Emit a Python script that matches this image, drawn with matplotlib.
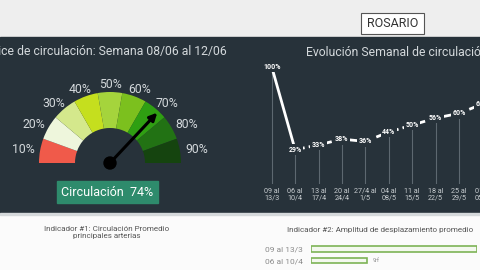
import numpy as np
import matplotlib
matplotlib.use('Agg')
import matplotlib.pyplot as plt
from matplotlib.patches import Wedge, Rectangle, Circle

plt.rcParams['font.family'] = ['Roboto', 'DejaVu Sans']

# gauge: circulation index, week 08/06 - 12/06
gauge_labels = ['10%', '20%', '30%', '40%', '50%', '60%', '70%', '80%', '90%']
gauge_colors = ['#f05a4a', '#eef6dc', '#d4e88c', '#c5df1e', '#a5d43c',
                '#7cc01e', '#2f9f12', '#227214', '#15440f']
gauge_value = 74

# weekly evolution of circulation
weeks = ['09 al\n13/3', '06 al\n10/4', '13 al\n17/4', '20 al\n24/4', '27/4 al\n1/5',
         '04 al\n08/5', '11 al\n15/5', '18 al\n22/5', '25 al\n29/5', '01 al\n05/6',
         '08 al\n12/6']
week_values = [100, 29, 33, 38, 36, 44, 50, 56, 60, 68, 74]

# indicator 2: displacement amplitude
disp_weeks = ['09 al 13/3', '06 al 10/4']
disp_values = [26.7, 9]
disp_texts = ['', '9rf']

DARK = '#27323a'
LIGHT = '#d3d8db'

fig = plt.figure(figsize=(4.8, 2.7), dpi=100)
fig.patch.set_facecolor('#fbfbfb')

# background / layout axes in pixel units
bg = fig.add_axes([0, 0, 1, 1])
bg.set_xlim(0, 480)
bg.set_ylim(270, 0)
bg.axis('off')
bg.add_patch(Rectangle((0, 0), 480, 37, color='#eeeeee'))
bg.add_patch(Rectangle((0, 37), 480, 176, color=DARK))
bg.add_patch(Rectangle((0, 213), 480, 2, color='#d5d9db'))

# ROSARIO box
bg.add_patch(Rectangle((361, 13), 63, 21, fc='white', ec='#555555', lw=0.8))
bg.text(392.5, 23.5, 'ROSARIO', ha='center', va='center', fontsize=9, color='#333333')

# titles
bg.text(227, 52, 'Índice de circulación: Semana 08/06 al 12/06', ha='right', va='center',
        fontsize=8.8, color=LIGHT)
bg.text(306, 52, 'Evolución Semanal de circulación', ha='left', va='center',
        fontsize=8.8, color=LIGHT)

# gauge
cx, cy, r_out, r_in = 110, 163, 71, 35
step = 180 / len(gauge_labels)
for i, (lab, col) in enumerate(zip(gauge_labels, gauge_colors)):
    a1 = 180 - (i + 1) * step
    a2 = 180 - i * step
    bg.add_patch(Wedge((cx, cy), r_out, -a2, -a1, width=r_out - r_in, fc=col, ec='none'))
    am = np.radians((a1 + a2) / 2)
    bg.text(cx + 88 * np.cos(am), cy - 78 * np.sin(am), lab, ha='center', va='center',
            fontsize=8.8, color=LIGHT)

ang = np.radians(180 * (1 - gauge_value / 100))
tip = (cx + 69 * np.cos(ang), cy - 69 * np.sin(ang))
bg.annotate('', xy=tip, xytext=(cx, cy),
            arrowprops=dict(arrowstyle='-|>', color='black', lw=2.2, mutation_scale=11,
                            shrinkA=0, shrinkB=0))
bg.add_patch(Circle((cx, cy), 6, color='black'))

bg.add_patch(Rectangle((57, 181), 101, 22, color='#2e8b6c'))
bg.text(107.5, 192, f'Circulación  {gauge_value}%', ha='center', va='center',
        fontsize=9, color='white')

# bottom captions
bg.text(107, 232.5, 'Indicador #1: Circulación Promedio\nprincipales arterias', ha='center',
        va='center', fontsize=5.8, color='#555555', linespacing=1.3)
bg.text(287, 230, 'Indicador #2: Amplitud de desplazamiento promedio', ha='left',
        va='center', fontsize=5.8, color='#555555')

# weekly evolution line chart
W, H = 480, 270
x0, dx = 271.7, 23.4
left_px, right_px = 250, 520
ax = fig.add_axes([left_px / W, (H - 183.5) / H, (right_px - left_px) / W, (183.5 - 66.7) / H])
ax.set_xlim((left_px - x0) / dx, (right_px - x0) / dx)
ax.set_ylim(0, 100)
ax.patch.set_alpha(0)
for s in ax.spines.values():
    s.set_visible(False)
ax.set_yticks([])
xs = np.arange(len(weeks))
ax.set_xticks(xs)
ax.set_xticklabels(weeks, fontsize=5.2, color='#c8cdd0', linespacing=1.05)
ax.tick_params(axis='x', length=0, pad=3)
ax.vlines(xs, 0, week_values, color='#5d6870', lw=0.8, zorder=1)
ax.plot(xs[:2], week_values[:2], color='white', lw=2, zorder=2)
ax.plot(xs[1:], week_values[1:], color='white', lw=2, ls=(0, (3.5, 1.5)), zorder=2)
for x, v in zip(xs, week_values):
    ax.text(x, v, f'{v}%', ha='center', va='center', fontsize=5, fontweight='bold',
            color='white', zorder=3,
            bbox=dict(fc=DARK, ec='none', pad=1.0))

# displacement bars
bx = fig.add_axes([311 / W, (H - 265) / H, (477 - 311) / W, 21 / H])
bx.set_xlim(0, disp_values[0])
bx.set_ylim(1 + 4.5 / 11.5, -5 / 11.5)
bx.patch.set_alpha(0)
for s in bx.spines.values():
    s.set_visible(False)
bx.barh(range(len(disp_weeks)), disp_values, height=0.45, fc='#f3f8ee', ec='#7db356', lw=1.2)
bx.set_yticks(range(len(disp_weeks)))
bx.set_yticklabels(disp_weeks, fontsize=6, color='#8a8a8a')
bx.tick_params(axis='y', length=0, pad=6)
bx.set_xticks([])
for i, (v, t) in enumerate(zip(disp_values, disp_texts)):
    if t:
        bx.text(v + 0.9, i, t, ha='left', va='center', fontsize=4, color='#8a8a8a')

fig.savefig('out.png', dpi=100)
